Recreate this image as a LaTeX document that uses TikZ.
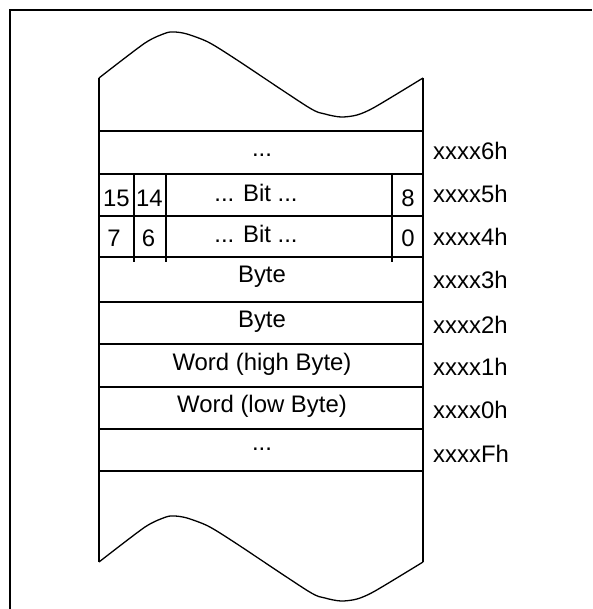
\documentclass[tikz,border=0pt]{standalone}
\usepackage{fontspec}
\setmainfont{Liberation Sans}
\begin{document}
\begin{tikzpicture}[x=1pt,y=-1pt,
  boxline/.style={line width=2pt},
  waveline/.style={line width=1.3pt, line join=round},
  frameline/.style={line width=2pt},
  lbl/.style={inner sep=0pt, anchor=base, font=\fontsize{23.9}{28}\selectfont},
  addr/.style={inner sep=0pt, anchor=base west, font=\fontsize{23.9}{28}\selectfont}]
\useasboundingbox (0,0) rectangle (592,609);
% frame
\draw[frameline] (10,609) -- (10,10) -- (592,10);
% waves
\draw[waveline] plot[smooth, tension=0.45] coordinates {(99,78) (145,43) (166,33) (175,32) (187,34) (208,42) (234,58) (308,107) (325,114) (341,117) (357,115) (375,107) (423,78)};
\draw[waveline] plot[smooth, tension=0.45] coordinates {(99,562) (145,527) (166,517) (175,516) (187,518) (208,526) (234,542) (308,591) (325,598) (341,601) (357,599) (375,591) (423,562)};
% box sides
\draw[boxline] (99,78) -- (99,562);
\draw[boxline] (423,78) -- (423,562);
% row lines
\foreach \yy in {131,174,216,257,302,344,387,429,471}
  \draw[boxline] (99,\yy) -- (424,\yy);
% bit columns
\foreach \xx in {134,166,392}
  \draw[boxline] (\xx,174) -- (\xx,262);
% row texts
\node[lbl] (r6) at (262,157) {...};
\node[lbl] (b1) at (256,202) {... Bit ...};
\node[lbl] (b0) at (256,242) {... Bit ...};
\node[lbl] (n15) at (116.5,207) {15};
\node[lbl] (n14) at (149.5,207) {14};
\node[lbl] (n8) at (408,207) {8};
\node[lbl] (n7) at (114,247) {7};
\node[lbl] (n6) at (148.5,247) {6};
\node[lbl] (n0) at (408,247) {0};
\node[lbl] (r3) at (262,282) {Byte};
\node[lbl] (r2) at (262,327) {Byte};
\node[lbl] (r1) at (262,370) {Word (high Byte)};
\node[lbl] (r0) at (262,412) {Word (low Byte)};
\node[lbl] (rF) at (262,450) {...};
% addresses
\node[addr] (a6) at (433,160) {xxxx6h};
\node[addr] (a5) at (433,203) {xxxx5h};
\node[addr] (a4) at (433,245) {xxxx4h};
\node[addr] (a3) at (433,288) {xxxx3h};
\node[addr] (a2) at (433,333) {xxxx2h};
\node[addr] (a1) at (433,375) {xxxx1h};
\node[addr] (a0) at (433,418) {xxxx0h};
\node[addr] (aF) at (433,462) {xxxxFh};
\end{tikzpicture}
\end{document}
